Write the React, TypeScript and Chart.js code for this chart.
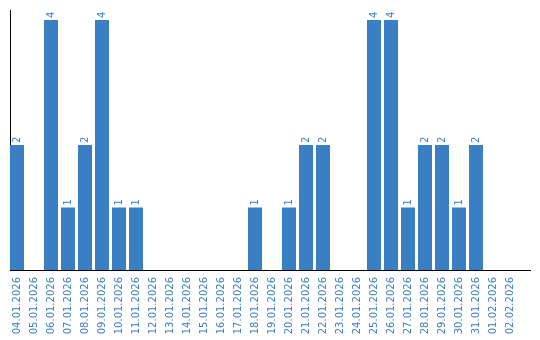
import React, { useEffect, useRef } from "react";
import { Chart, registerables } from "chart.js";

Chart.register(...registerables);

const categories = [
  "04.01.2026", "05.01.2026", "06.01.2026", "07.01.2026", "08.01.2026",
  "09.01.2026", "10.01.2026", "11.01.2026", "12.01.2026", "13.01.2026",
  "14.01.2026", "15.01.2026", "16.01.2026", "17.01.2026", "18.01.2026",
  "19.01.2026", "20.01.2026", "21.01.2026", "22.01.2026", "23.01.2026",
  "24.01.2026", "25.01.2026", "26.01.2026", "27.01.2026", "28.01.2026",
  "29.01.2026", "30.01.2026", "31.01.2026", "01.02.2026", "02.02.2026",
];
const counts = [
  2, 0, 4, 1, 2, 4, 1, 1, 0, 0,
  0, 0, 0, 0, 1, 0, 1, 2, 2, 0,
  0, 4, 4, 1, 2, 2, 1, 2, 0, 0,
];

const BLUE = "#3a7ec3";
const FONT = "DejaVu Sans";

const axisLines = {
  id: "axisLines",
  beforeDatasetsDraw(chart: any) {
    const { ctx, chartArea } = chart;
    ctx.save();
    ctx.strokeStyle = "#000";
    ctx.lineWidth = 1;
    ctx.beginPath();
    ctx.moveTo(10.5, chartArea.top);
    ctx.lineTo(10.5, chartArea.bottom + 0.5);
    ctx.moveTo(10, chartArea.bottom + 0.5);
    ctx.lineTo(531, chartArea.bottom + 0.5);
    ctx.stroke();
    ctx.restore();
  },
};

const valueLabels = {
  id: "valueLabels",
  afterDatasetsDraw(chart: any) {
    const { ctx } = chart;
    const meta = chart.getDatasetMeta(0);
    ctx.save();
    ctx.fillStyle = BLUE;
    ctx.font = `10px "${FONT}"`;
    ctx.textAlign = "left";
    ctx.textBaseline = "middle";
    meta.data.forEach((bar: any, i: number) => {
      const v = counts[i];
      if (!v) return;
      ctx.save();
      ctx.translate(bar.x, bar.y - 2);
      ctx.rotate(-Math.PI / 2);
      ctx.fillText(String(v), 0, 0);
      ctx.restore();
    });
    ctx.restore();
  },
};

export default function App() {
  const ref = useRef<HTMLCanvasElement>(null);
  useEffect(() => {
    document.body.style.margin = "0";
    const chart = new Chart(ref.current!, {
      type: "bar",
      data: {
        labels: categories,
        datasets: [
          {
            data: counts,
            backgroundColor: BLUE,
            borderWidth: 0,
            categoryPercentage: 1,
            barPercentage: 14 / 17,
          },
        ],
      },
      options: {
        animation: false,
        responsive: false,
        maintainAspectRatio: false,
        layout: { padding: { left: 8.5, right: 21.5, top: 10, bottom: 0 } },
        plugins: { legend: { display: false }, tooltip: { enabled: false } },
        scales: {
          x: {
            offset: true,
            grid: { display: false, drawTicks: false },
            border: { display: false },
            ticks: {
              autoSkip: false,
              minRotation: 90,
              maxRotation: 90,
              padding: 7,
              color: BLUE,
              font: { family: FONT, size: 10 },
            },
            afterFit(scale: any) {
              scale.height = 70;
            },
          },
          y: {
            display: false,
            min: 0,
            max: 4.16,
          },
        },
      },
      plugins: [axisLines, valueLabels],
    });
    return () => chart.destroy();
  }, []);
  return (
    <div style={{ width: 540, height: 340 }}>
      <canvas ref={ref} width={540} height={340} style={{ display: "block" }} />
    </div>
  );
}
